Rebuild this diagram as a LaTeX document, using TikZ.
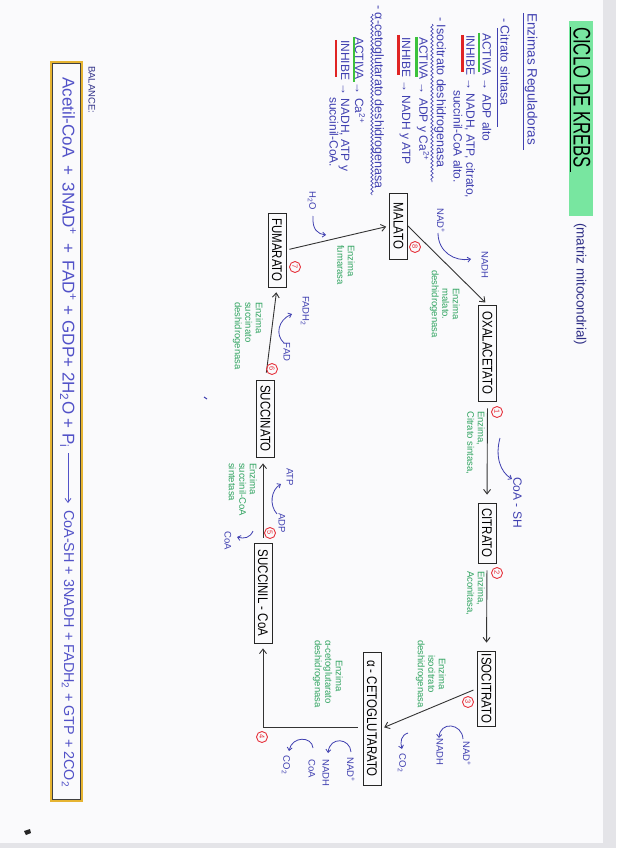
\documentclass[tikz,border=0pt]{standalone}
\usepackage{fontspec}
\usepackage{graphicx}
\setmainfont{Liberation Sans}
\newfontfamily\handcaps{Liberation Sans}[FakeStretch=0.82]
\newfontfamily\titlefont{Liberation Sans}[FakeStretch=0.7]
\usetikzlibrary{arrows.meta,decorations.pathmorphing}
\definecolor{inkblue}{HTML}{3F3FB0}
\definecolor{eqblue}{HTML}{5252C8}
\definecolor{navyink}{HTML}{2E2E86}
\definecolor{inkgreen}{HTML}{2FA35F}
\definecolor{inkred}{HTML}{E6323C}
\definecolor{mint}{HTML}{78E6A0}
\definecolor{goldline}{HTML}{E6B432}
\definecolor{hlgreen}{HTML}{3CC23C}
\definecolor{hlred}{HTML}{E02424}
\definecolor{pagebg}{HTML}{FAFAFC}
\definecolor{edgegray}{HTML}{E4E4E8}
\tikzset{
  rotnode/.style={rotate=-90, inner sep=0pt},
  met/.style={rotnode, draw=black!85, line width=0.8pt, font=\handcaps\fontsize{14}{16}\selectfont, minimum height=18pt, inner sep=2pt},
  enz/.style={rotnode, text=inkgreen, font=\fontsize{9.5}{10.5}\selectfont, align=left, anchor=north west},
  cof/.style={rotnode, text=inkblue, font=\fontsize{9.5}{10}\selectfont},
  stepnum/.style={rotnode, circle, draw=inkred, text=inkred, line width=0.9pt, minimum size=11pt, font=\fontsize{7.5}{8}\selectfont},
  mainarrow/.style={draw=black!80, line width=0.9pt, -{Straight Barb[length=4.5pt,width=7pt]}},
  cofarrow/.style={draw=inkblue, line width=0.8pt, -{Straight Barb[length=3pt,width=5pt]}},
  reg/.style={rotnode, anchor=west, text=inkblue, font=\fontsize{12}{13}\selectfont},
  reghead/.style={rotnode, anchor=west, text=inkblue, font=\fontsize{12.5}{13}\selectfont},
  activa/.style={draw=hlgreen, line width=2.6pt},
  inhibe/.style={draw=hlred, line width=2.6pt},
  wavy/.style={draw=inkblue, line width=0.6pt, decorate, decoration={snake, amplitude=1.2pt, segment length=4pt}},
}
\begin{document}
\begin{tikzpicture}[x=1pt, y=-1pt]
\useasboundingbox (0,0) rectangle (616,848);
% page
\fill[pagebg] (0,0) rectangle (616,848);
\fill[edgegray] (603,0) rectangle (616,848);
\fill[edgegray] (0,843) rectangle (616,848);

% title
\fill[mint] (569,21) rectangle (593,216);
\node[rotnode, anchor=west, font=\titlefont\fontsize{24}{26}\selectfont] (title) at (582,27) {CICLO DE KREBS};
\draw[black, line width=0.8pt] (570,27) -- (570,172);
\node[rotnode, anchor=west, text=navyink, font=\fontsize{13.5}{14}\selectfont] (matriz) at (580,223) {(matriz mitocondrial)};

% regulators
\node[reghead, font=\fontsize{13.5}{14}\selectfont] (regtitle) at (531,13) {Enzimas Reguladoras};
\draw[inkblue, line width=0.7pt] (523,13) -- (523,150);

\node[reghead] (cs) at (505,18) {- Citrato sintasa};
\draw[inkblue, line width=0.6pt] (497,28) -- (497,127);
\draw[activa] (479,33) -- (479,72);
\node[reg] (csa) at (487,33) {ACTIVA → ADP alto};
\draw[inhibe] (462.5,35) -- (462.5,72);
\node[reg] (csi) at (470,35) {INHIBE → NADH, ATP, citrato,};
\node[reg] (csi2) at (458,90) {succinil-CoA alto.};

\node[reghead] (idh) at (440,17) {- Isocitrato deshidrogenasa};
\draw[wavy] (432,24) -- (432,182);
\draw[activa] (416.5,37) -- (416.5,77);
\node[reg] (idha) at (423,37) {ACTIVA → ADP y Ca\textsuperscript{2+}};
\draw[inhibe] (398.5,35) -- (398.5,75);
\node[reg] (idhi) at (405,37) {INHIBE → NADH y ATP};

\node[reghead] (akgdh) at (378,5) {- α-cetoglutarato deshidrogenasa};
\draw[wavy] (372,14) -- (372,195);
\draw[activa] (354,37) -- (354,82);
\node[reg] (akga) at (360,37) {ACTIVA → Ca\textsuperscript{2+}};
\draw[inhibe] (336,40) -- (336,77);
\node[reg] (akgi) at (344,40) {INHIBE → NADH, ATP y};
\node[reg] (akgi2) at (334,97) {succinil-CoA.};

% metabolites
\node[met, minimum width=66pt] (mal) at (398.5,226) {MALATO};
\node[met, minimum width=96pt] (oxa) at (487.5,353) {OXALACETATO};
\node[met, minimum width=60pt] (cit) at (487,533) {CITRATO};
\node[met, minimum width=75pt] (iso) at (486.5,688.5) {ISOCITRATO};
\node[met, minimum width=133pt] (akg) at (372,718.5) {α - CETOGLUTARATO};
\node[met, minimum width=100pt] (sca) at (263,593) {SUCCINIL - CoA};
\node[met, minimum width=77pt] (suc) at (265.5,418.5) {SUCCINATO};
\node[met, minimum width=74pt] (fum) at (277,250) {FUMARATO};

% cycle arrows
\draw[mainarrow, shorten >=3pt] (mal.north) -- (oxa.west);
\draw[mainarrow, shorten <=7pt, shorten >=8pt] (oxa.east) -- (cit.west);
\draw[mainarrow, shorten <=7pt, shorten >=8pt] (cit.east) -- (iso.west);
\draw[mainarrow, shorten <=4pt, shorten >=3pt] (iso.south) -- ([yshift=-10pt]akg.north);
\draw[mainarrow, shorten <=5pt, shorten >=5pt] ([yshift=-9pt]akg.south) -| (sca.east);
\draw[mainarrow, shorten <=5pt, shorten >=6pt] (sca.west) -- (sca.west |- suc.east);
\draw[mainarrow, shorten <=7pt, shorten >=5pt] (suc.west) -- (fum.east);
\draw[mainarrow, shorten <=3pt, shorten >=3pt] (fum.north) -- (mal.south);

% step numbers
\node[stepnum] (n1) at (497,412) {1};
\node[stepnum] (n2) at (497,573) {2};
\node[stepnum] (n3) at (468,702) {3};
\node[stepnum] (n4) at (262,737) {4};
\node[stepnum] (n5) at (270,533) {5};
\node[stepnum] (n6) at (272,369) {6};
\node[stepnum] (n7) at (295,267) {7};
\node[stepnum] (n8) at (415,247) {8};

% enzymes
\node[enz] (e1) at (485,411) {Enzima,\\Citrato sintasa,};
\node[enz] (e2) at (485,571) {Enzima,\\Aconitasa,};
\node[enz, align=center, anchor=north] (e3) at (446,674) {Enzima\\isocitrato\\deshidrogenasa};
\node[enz] (e4) at (343,640) {\hspace*{20pt}Enzima\\α-cetoglutarato\\deshidrogenasa};
\node[enz] (e5) at (257,463) {Enzima\\succinil-CoA\\sintetasa};
\node[enz] (e6) at (263,302) {Enzima\\succinato\\deshidrogenasa};
\node[enz] (e7) at (355,245) {Enzima\\fumarasa};
\node[enz, align=center, anchor=north] (e8) at (460,304) {Enzima\\malato.\\deshidrogenasa};

% cofactors
\node[cof] (h2o) at (312,201) {H\textsubscript{2}O};
\node[cof] (nad8) at (441,221) {NAD\textsuperscript{+}};
\node[cof] (nadh8) at (485,265) {NADH};
\node[cof, font=\fontsize{12}{13}\selectfont] (coash) at (517.5,502.5) {CoA - SH};
\node[cof] (nad3) at (467,754) {NAD\textsuperscript{+}};
\node[cof] (nadh3) at (440,752) {NADH};
\node[cof] (co2a) at (402,763) {CO\textsubscript{2}};
\node[cof] (nad4) at (351,770) {NAD\textsuperscript{+}};
\node[cof] (nadh4) at (326,773) {NADH};
\node[cof] (coa4) at (312,769) {CoA};
\node[cof] (co2b) at (286,765) {CO\textsubscript{2}};
\node[cof] (atp5) at (290,477) {ATP};
\node[cof] (adp5) at (282,523) {ADP};
\node[cof] (coa5) at (228,541) {CoA};
\node[cof] (fad6) at (287,352) {FAD};
\node[cof] (fadh6) at (305,311) {FADH\textsubscript{2}};

% cofactor hooks
\coordinate (h7a) at (313,216); \coordinate (h7b) at (326,235);
\draw[cofarrow] (h7a) .. controls (312,230) and (318,234) .. (h7b);
\coordinate (h8a) at (438,233); \coordinate (h8b) at (471,259);
\draw[cofarrow] (h8a) .. controls (438,252) and (455,262) .. (h8b);
\coordinate (h1a) at (500,438); \coordinate (h1b) at (512,479);
\draw[cofarrow] (h1a) .. controls (495,456) and (500,472) .. (h1b);
\coordinate (h3a) at (463,739); \coordinate (h3b) at (439,738);
\draw[cofarrow] (h3a) .. controls (462,723) and (440,721) .. (h3b);
\coordinate (h3c) at (408,733); \coordinate (h3d) at (402,749);
\draw[cofarrow] (h3c) .. controls (401,735) and (400,742) .. (h3d);
\coordinate (h4a) at (351,752); \coordinate (h4b) at (328,753);
\draw[cofarrow] (h4a) .. controls (350,738) and (330,736) .. (h4b);
\coordinate (h4c) at (313,748); \coordinate (h4d) at (289,751);
\draw[cofarrow] (h4c) .. controls (312,736) and (292,736) .. (h4d);
\coordinate (h5a) at (277,514); \coordinate (h5b) at (281,484);
\draw[cofarrow] (h5a) .. controls (269,505) and (271,490) .. (h5b);
\coordinate (h5c) at (253,531); \coordinate (h5d) at (237,537);
\draw[cofarrow] (h5c) .. controls (250,538) and (244,539) .. (h5d);
\coordinate (h6a) at (284,343); \coordinate (h6b) at (292,314);
\draw[cofarrow] (h6a) .. controls (275,335) and (278,320) .. (h6b);

% balance
\node[rotnode, anchor=west, text=navyink, font=\fontsize{9.5}{10}\selectfont] (bal) at (92,66) {BALANCE:};
\draw[goldline, line width=2pt] (51,62) rectangle (82,801);
\draw[black!75, line width=0.7pt] (52.8,63.8) rectangle (80.2,799.2);
\node[rotnode, anchor=west, text=eqblue, font=\fontsize{14}{16}\selectfont] (lhs) at (68,77)
  {\resizebox{371pt}{!}{Acetil-CoA\, + \,3NAD\textsuperscript{+}\, + \,FAD\textsuperscript{+} + GDP+ 2H\textsubscript{2}O + P\textsubscript{i}}};
\node[rotnode, anchor=west, text=eqblue, font=\fontsize{14}{16}\selectfont] (rhs) at (68,510)
  {\resizebox{277pt}{!}{CoA-SH + 3NADH + FADH\textsubscript{2} + GTP + 2CO\textsubscript{2}}};
\draw[eqblue, line width=0.8pt, -{Straight Barb[length=4pt,width=6pt]}, shorten <=5pt, shorten >=7pt] (lhs.east) -- (rhs.west);

% specks
\fill[black!85] (24,831) -- (30,829) -- (31,833) -- (26,835) -- cycle;
\draw[inkblue, line width=1pt] (204,397) -- (207,399);
\end{tikzpicture}
\end{document}
